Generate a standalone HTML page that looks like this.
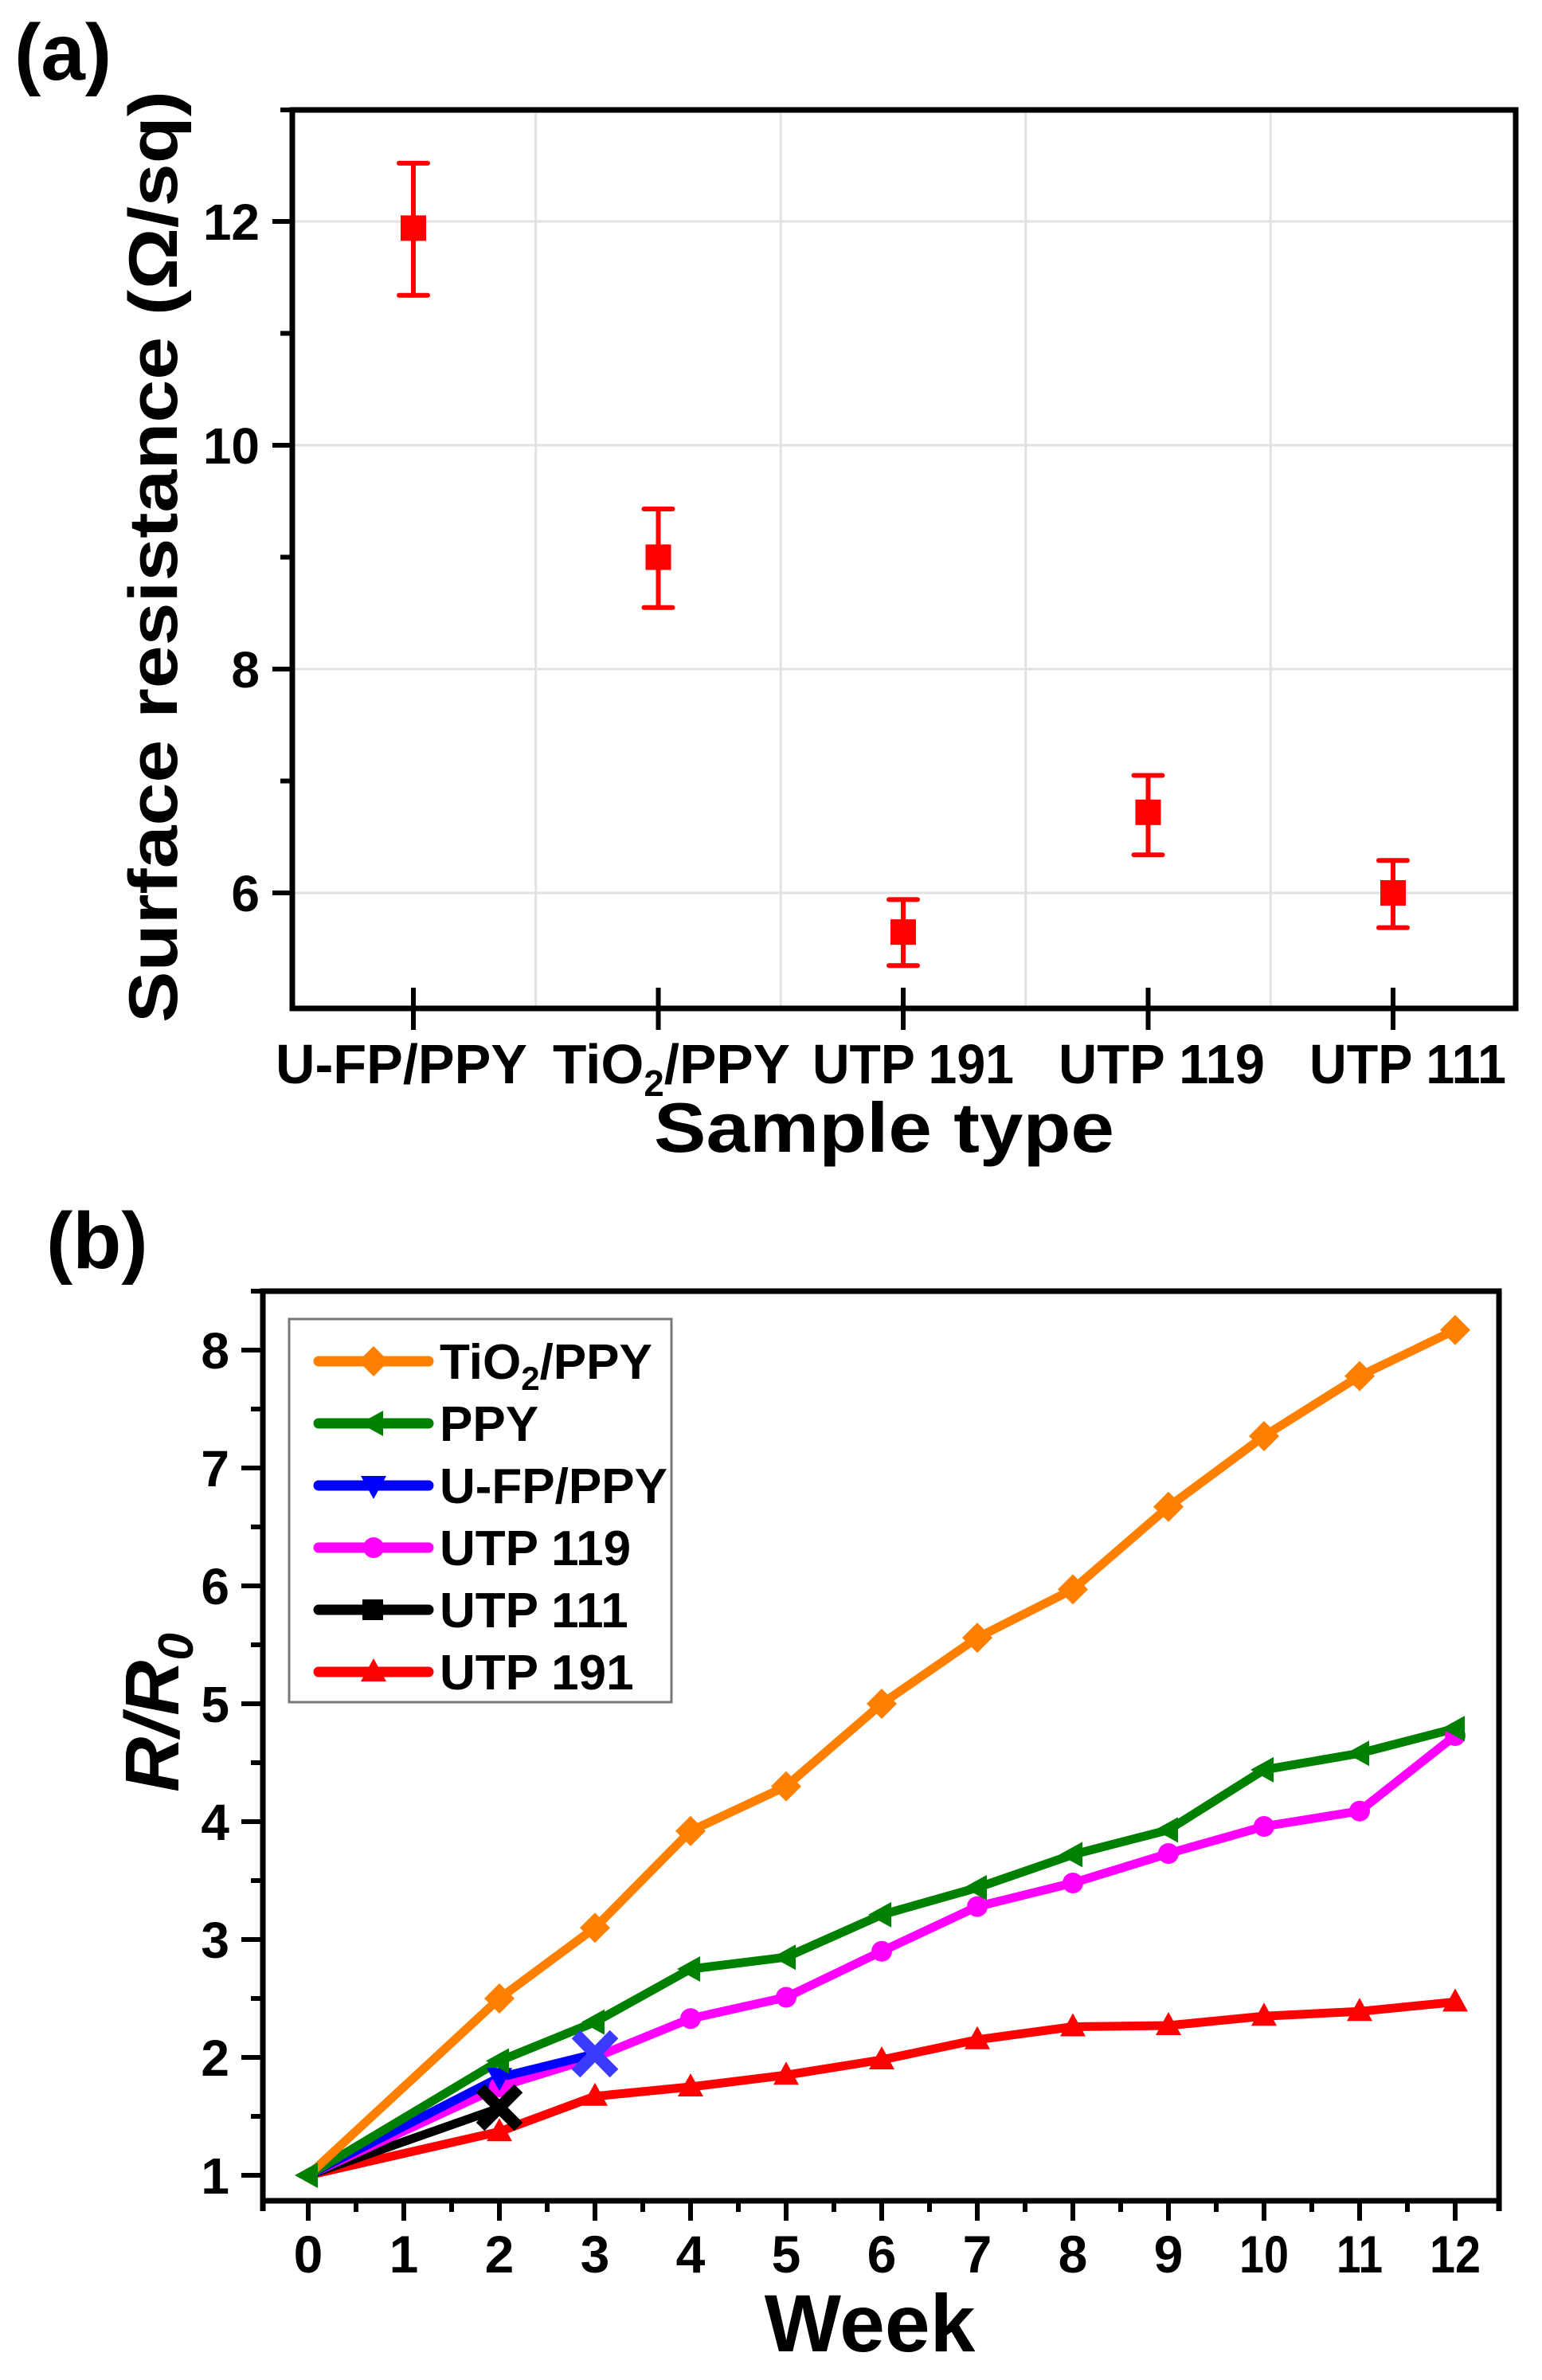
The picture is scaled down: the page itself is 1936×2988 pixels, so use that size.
<!DOCTYPE html>
<html><head><meta charset="utf-8"><style>
html,body{margin:0;padding:0;background:#fff;}
svg{display:block;}
text{font-family:"Liberation Sans",Arial,sans-serif;font-weight:bold;fill:#000;}
</style></head><body>
<svg width="1936" height="2988" viewBox="0 0 1936 2988" xmlns="http://www.w3.org/2000/svg">
<rect width="1936" height="2988" fill="#fff"/>

<!-- ===== Panel (a) ===== -->
<text x="18" y="100" font-size="100">(a)</text>
<g stroke="#e2e2e2" stroke-width="3">
<line x1="367" y1="278" x2="1903" y2="278"/>
<line x1="367" y1="559" x2="1903" y2="559"/>
<line x1="367" y1="840" x2="1903" y2="840"/>
<line x1="367" y1="1121" x2="1903" y2="1121"/>
<line x1="672.75" y1="138" x2="672.75" y2="1266"/>
<line x1="980.25" y1="138" x2="980.25" y2="1266"/>
<line x1="1287.75" y1="138" x2="1287.75" y2="1266"/>
<line x1="1595.25" y1="138" x2="1595.25" y2="1266"/>
</g>
<rect x="367" y="138" width="1536" height="1128" fill="none" stroke="#000" stroke-width="7"/>
<g stroke="#000" stroke-width="6">
<line x1="342" y1="278" x2="367" y2="278"/>
<line x1="342" y1="559" x2="367" y2="559"/>
<line x1="342" y1="840" x2="367" y2="840"/>
<line x1="342" y1="1121" x2="367" y2="1121"/>
<line x1="352" y1="418.5" x2="367" y2="418.5"/>
<line x1="352" y1="699.5" x2="367" y2="699.5"/>
<line x1="352" y1="980.5" x2="367" y2="980.5"/>
<line x1="352" y1="138" x2="367" y2="138"/>
<line x1="519" y1="1240" x2="519" y2="1293"/>
<line x1="826.5" y1="1240" x2="826.5" y2="1293"/>
<line x1="1134" y1="1240" x2="1134" y2="1293"/>
<line x1="1441.5" y1="1240" x2="1441.5" y2="1293"/>
<line x1="1749" y1="1240" x2="1749" y2="1293"/>
</g>
<g font-size="64" text-anchor="end">
<text x="326" y="301">12</text>
<text x="326" y="582">10</text>
<text x="326" y="863">8</text>
<text x="326" y="1144">6</text>
</g>
<g font-size="70">
<text x="346" y="1360" textLength="316" lengthAdjust="spacingAndGlyphs">U-FP/PPY</text>
<text x="694" y="1360" textLength="298" lengthAdjust="spacingAndGlyphs">TiO<tspan font-size="46" dy="16">2</tspan><tspan dy="-16">/PPY</tspan></text>
<text x="1020" y="1360" textLength="253" lengthAdjust="spacingAndGlyphs">UTP 191</text>
<text x="1329" y="1360" textLength="259" lengthAdjust="spacingAndGlyphs">UTP 119</text>
<text x="1644" y="1360" textLength="247" lengthAdjust="spacingAndGlyphs">UTP 111</text>
</g>
<text x="1110" y="1446" font-size="88" text-anchor="middle" textLength="578" lengthAdjust="spacingAndGlyphs">Sample type</text>
<text transform="translate(222,699) rotate(-90)" font-size="86" text-anchor="middle" textLength="1170" lengthAdjust="spacingAndGlyphs">Surface resistance (Ω/sq)</text>
<g stroke="#ff0000" stroke-width="6" stroke-linecap="round" fill="#ff0000">
<line x1="519" y1="204.9" x2="519" y2="370.7"/><line x1="501" y1="204.9" x2="537" y2="204.9"/><line x1="501" y1="370.7" x2="537" y2="370.7"/>
<line x1="826.5" y1="639" x2="826.5" y2="762.7"/><line x1="808.5" y1="639" x2="844.5" y2="639"/><line x1="808.5" y1="762.7" x2="844.5" y2="762.7"/>
<line x1="1134" y1="1129.4" x2="1134" y2="1212.3"/><line x1="1116" y1="1129.4" x2="1152" y2="1129.4"/><line x1="1116" y1="1212.3" x2="1152" y2="1212.3"/>
<line x1="1441.5" y1="973.5" x2="1441.5" y2="1073.2"/><line x1="1423.5" y1="973.5" x2="1459.5" y2="973.5"/><line x1="1423.5" y1="1073.2" x2="1459.5" y2="1073.2"/>
<line x1="1749" y1="1080.3" x2="1749" y2="1164.6"/><line x1="1731" y1="1080.3" x2="1767" y2="1080.3"/><line x1="1731" y1="1164.6" x2="1767" y2="1164.6"/>
</g>
<g fill="#ff0000">
<rect x="503" y="270.4" width="32" height="32"/>
<rect x="810.5" y="683.5" width="32" height="32"/>
<rect x="1118" y="1154.2" width="32" height="32"/>
<rect x="1425.5" y="1003.8" width="32" height="32"/>
<rect x="1733" y="1105" width="32" height="32"/>
</g>

<!-- ===== Panel (b) ===== -->
<text x="58" y="1592" font-size="100">(b)</text>
<rect x="330" y="1621" width="1552" height="1142" fill="none" stroke="#000" stroke-width="7"/>
<line x1="330" y1="2763" x2="330" y2="2776" stroke="#000" stroke-width="7"/>
<line x1="1882" y1="2763" x2="1882" y2="2776" stroke="#000" stroke-width="7"/>
<g stroke="#000" stroke-width="6">
<line x1="303" y1="2731" x2="330" y2="2731"/><line x1="303" y1="2583" x2="330" y2="2583"/>
<line x1="303" y1="2435" x2="330" y2="2435"/><line x1="303" y1="2287" x2="330" y2="2287"/>
<line x1="303" y1="2139" x2="330" y2="2139"/><line x1="303" y1="1991" x2="330" y2="1991"/>
<line x1="303" y1="1843" x2="330" y2="1843"/><line x1="303" y1="1695" x2="330" y2="1695"/>
<line x1="315" y1="2657" x2="330" y2="2657"/><line x1="315" y1="2509" x2="330" y2="2509"/>
<line x1="315" y1="2361" x2="330" y2="2361"/><line x1="315" y1="2213" x2="330" y2="2213"/>
<line x1="315" y1="2065" x2="330" y2="2065"/><line x1="315" y1="1917" x2="330" y2="1917"/>
<line x1="315" y1="1769" x2="330" y2="1769"/><line x1="315" y1="1621" x2="330" y2="1621"/>
</g>
<g stroke="#000" stroke-width="6">
<line x1="387" y1="2763" x2="387" y2="2788"/><line x1="507" y1="2763" x2="507" y2="2788"/>
<line x1="627" y1="2763" x2="627" y2="2788"/><line x1="747" y1="2763" x2="747" y2="2788"/>
<line x1="867" y1="2763" x2="867" y2="2788"/><line x1="987" y1="2763" x2="987" y2="2788"/>
<line x1="1107" y1="2763" x2="1107" y2="2788"/><line x1="1227" y1="2763" x2="1227" y2="2788"/>
<line x1="1347" y1="2763" x2="1347" y2="2788"/><line x1="1467" y1="2763" x2="1467" y2="2788"/>
<line x1="1587" y1="2763" x2="1587" y2="2788"/><line x1="1707" y1="2763" x2="1707" y2="2788"/>
<line x1="1827" y1="2763" x2="1827" y2="2788"/>
<line x1="447" y1="2763" x2="447" y2="2777"/><line x1="567" y1="2763" x2="567" y2="2777"/>
<line x1="687" y1="2763" x2="687" y2="2777"/><line x1="807" y1="2763" x2="807" y2="2777"/>
<line x1="927" y1="2763" x2="927" y2="2777"/><line x1="1047" y1="2763" x2="1047" y2="2777"/>
<line x1="1167" y1="2763" x2="1167" y2="2777"/><line x1="1287" y1="2763" x2="1287" y2="2777"/>
<line x1="1407" y1="2763" x2="1407" y2="2777"/><line x1="1527" y1="2763" x2="1527" y2="2777"/>
<line x1="1647" y1="2763" x2="1647" y2="2777"/><line x1="1767" y1="2763" x2="1767" y2="2777"/>
</g>
<g font-size="64" text-anchor="end">
<text x="288" y="2754">1</text><text x="288" y="2606">2</text><text x="288" y="2458">3</text>
<text x="288" y="2310">4</text><text x="288" y="2162">5</text><text x="288" y="2014">6</text>
<text x="288" y="1866">7</text><text x="288" y="1718">8</text>
</g>
<g font-size="66" text-anchor="middle">
<text x="387" y="2853">0</text><text x="507" y="2853">1</text><text x="627" y="2853">2</text>
<text x="747" y="2853">3</text><text x="867" y="2853">4</text><text x="987" y="2853">5</text>
<text x="1107" y="2853">6</text><text x="1227" y="2853">7</text><text x="1347" y="2853">8</text>
<text x="1467" y="2853">9</text><text x="1587" y="2853" textLength="62" lengthAdjust="spacingAndGlyphs">10</text>
<text x="1707" y="2853" textLength="58" lengthAdjust="spacingAndGlyphs">11</text>
<text x="1827" y="2853" textLength="64" lengthAdjust="spacingAndGlyphs">12</text>
</g>
<text x="1092" y="2952" font-size="102" text-anchor="middle">Week</text>
<text transform="translate(224,2150) rotate(-90)" font-size="96" font-style="italic" text-anchor="middle">R/R<tspan font-size="62" dy="18">0</tspan></text>

<g fill="none" stroke-width="11" stroke-linejoin="round" stroke-linecap="round">
<polyline stroke="#ff0000" points="387,2731 627,2676.2 747,2631.8 867,2620 987,2605.2 1107,2586 1227,2560.8 1347,2544.5 1467,2543 1587,2531.2 1707,2525.3 1827,2513.4"/>
<polyline stroke="#000000" points="387,2731 627,2646.6"/>
<polyline stroke="#ff00ff" points="387,2731 627,2620 747,2583 867,2534.2 987,2507.5 1107,2449.8 1227,2393.6 1347,2364 1467,2327 1587,2293 1707,2273.7 1827,2179"/>
<polyline stroke="#0000ff" points="387,2731 627,2608.2 747,2578.6"/>
<polyline stroke="#008000" points="387,2731 627,2587.4 747,2538.6 867,2472 987,2457.2 1107,2403.9 1227,2369.9 1347,2328.4 1467,2297.4 1587,2221.9 1707,2201.2 1827,2170.1"/>
<polyline stroke="#ff8000" points="387,2731 627,2509 747,2420.2 867,2298.8 987,2242.6 1107,2139 1227,2056.1 1347,1995.4 1467,1891.8 1587,1803 1707,1727.6 1827,1669.8"/>
</g>
<defs>
<path id="tri" d="M0,-17 L16,12 L-16,12 Z"/>
<path id="ltri" d="M-17,0 L12,-16 L12,16 Z"/>
<path id="dtri" d="M0,17 L16,-12 L-16,-12 Z"/>
<path id="dia" d="M0,-19 L19,0 L0,19 L-19,0 Z"/>
</defs>
<g fill="#ff0000">
<use href="#tri" x="627" y="2676.2"/><use href="#tri" x="747" y="2631.8"/><use href="#tri" x="867" y="2620"/>
<use href="#tri" x="987" y="2605.2"/><use href="#tri" x="1107" y="2586"/><use href="#tri" x="1227" y="2560.8"/>
<use href="#tri" x="1347" y="2544.5"/><use href="#tri" x="1467" y="2543"/><use href="#tri" x="1587" y="2531.2"/>
<use href="#tri" x="1707" y="2525.3"/><use href="#tri" x="1827" y="2513.4"/>
</g>
<g fill="#ff00ff">
<circle cx="627" cy="2620" r="13"/><circle cx="867" cy="2534.2" r="13"/><circle cx="987" cy="2507.5" r="13"/>
<circle cx="1107" cy="2449.8" r="13"/><circle cx="1227" cy="2393.6" r="13"/><circle cx="1347" cy="2364" r="13"/>
<circle cx="1467" cy="2327" r="13"/><circle cx="1587" cy="2293" r="13"/><circle cx="1707" cy="2273.7" r="13"/>
<circle cx="1827" cy="2179" r="13"/>
</g>
<use href="#dtri" x="627" y="2608.2" fill="#0000ff"/>
<g fill="#008000">
<use href="#ltri" x="627" y="2587.4"/><use href="#ltri" x="747" y="2538.6"/><use href="#ltri" x="867" y="2472"/>
<use href="#ltri" x="987" y="2457.2"/><use href="#ltri" x="1107" y="2403.9"/><use href="#ltri" x="1227" y="2369.9"/>
<use href="#ltri" x="1347" y="2328.4"/><use href="#ltri" x="1467" y="2297.4"/><use href="#ltri" x="1587" y="2221.9"/>
<use href="#ltri" x="1707" y="2201.2"/><use href="#ltri" x="1827" y="2170.1"/>
</g>
<g fill="#ff8000">
<use href="#dia" x="627" y="2509"/><use href="#dia" x="747" y="2420.2"/><use href="#dia" x="867" y="2298.8"/>
<use href="#dia" x="987" y="2242.6"/><use href="#dia" x="1107" y="2139"/><use href="#dia" x="1227" y="2056.1"/>
<use href="#dia" x="1347" y="1995.4"/><use href="#dia" x="1467" y="1891.8"/><use href="#dia" x="1587" y="1803"/>
<use href="#dia" x="1707" y="1727.6"/><use href="#dia" x="1827" y="1669.8"/>
</g>
<use href="#ltri" x="387" y="2731" fill="#008000"/>
<g stroke-width="15" stroke-linecap="butt">
<path d="M603,2622 L651,2670 M651,2622 L603,2670" stroke="#000"/>
<path d="M723,2554 L771,2603 M771,2554 L723,2603" stroke="#3b3bff"/>
</g>

<rect x="363" y="1656" width="480" height="481" fill="#fff" stroke="#777" stroke-width="3"/>
<g stroke-width="13" stroke-linecap="round">
<line x1="400" y1="1709" x2="538" y2="1709" stroke="#ff8000"/>
<line x1="400" y1="1787" x2="538" y2="1787" stroke="#008000"/>
<line x1="400" y1="1865" x2="538" y2="1865" stroke="#0000ff"/>
<line x1="400" y1="1943" x2="538" y2="1943" stroke="#ff00ff"/>
<line x1="400" y1="2021" x2="538" y2="2021" stroke="#000"/>
<line x1="400" y1="2099" x2="538" y2="2099" stroke="#ff0000"/>
</g>
<use href="#dia" x="469" y="1709" fill="#ff8000"/>
<use href="#ltri" x="469" y="1787" fill="#008000"/>
<use href="#dtri" x="469" y="1865" fill="#0000ff"/>
<circle cx="469" cy="1943" r="13" fill="#ff00ff"/>
<rect x="455" y="2008" width="26" height="26" fill="#000"/>
<use href="#tri" x="469" y="2099" fill="#ff0000"/>
<g font-size="62">
<text x="552" y="1731">TiO<tspan font-size="42" dy="14">2</tspan><tspan dy="-14">/PPY</tspan></text>
<text x="552" y="1809">PPY</text>
<text x="552" y="1887">U-FP/PPY</text>
<text x="552" y="1965">UTP 119</text>
<text x="552" y="2043">UTP 111</text>
<text x="552" y="2121">UTP 191</text>
</g>
</svg>
</body></html>
